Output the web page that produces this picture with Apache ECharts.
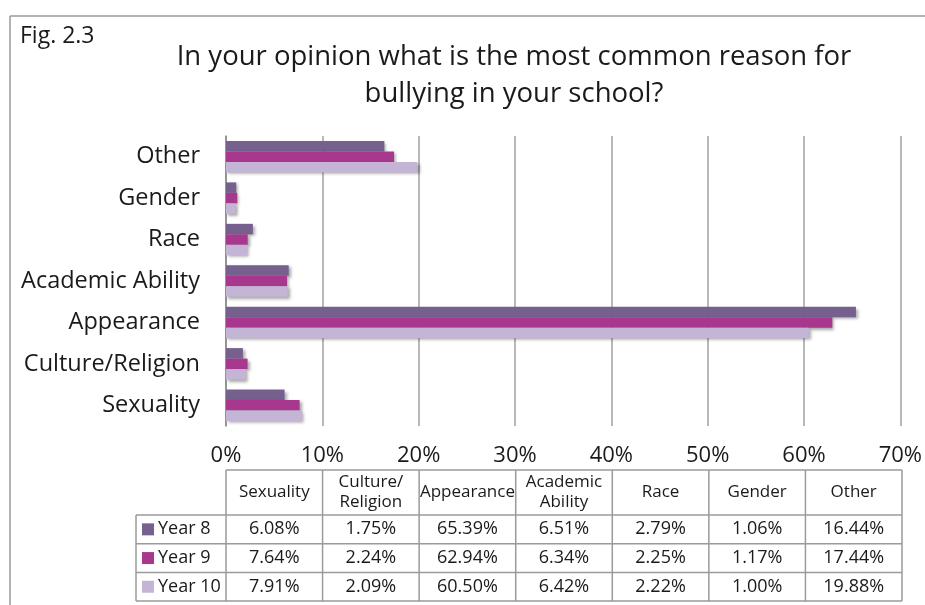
<!DOCTYPE html>
<html>
<head>
<meta charset="utf-8">
<script src="https://cdn.jsdelivr.net/npm/echarts@6/dist/echarts.min.js"></script>
<style>
  html, body { margin: 0; padding: 0; background: #fff; }
  #chart { width: 925px; height: 605px; }
</style>
</head>
<body>
<div id="chart"></div>
<script>
// Reasons for bullying, by school year (percent of respondents)
const categories = ['Sexuality', 'Culture/Religion', 'Appearance', 'Academic Ability', 'Race', 'Gender', 'Other'];
const tableHeaders = ['Sexuality', 'Culture/\nReligion', 'Appearance', 'Academic\nAbility', 'Race', 'Gender', 'Other'];
const seriesNames = ['Year 8', 'Year 9', 'Year 10'];
const year8 = [6.08, 1.75, 65.39, 6.51, 2.79, 1.06, 16.44];
const year9 = [7.64, 2.24, 62.94, 6.34, 2.25, 1.17, 17.44];
const year10 = [7.91, 2.09, 60.50, 6.42, 2.22, 1.00, 19.88];
const xTicks = [0, 10, 20, 30, 40, 50, 60, 70];

const colors = ['#75608e', '#a7388e', '#c4b4d6'];
const FONT = 'Open Sans';
const W = 925, H = 605;
const grid = { left: 226, right: 23, top: 136, bottom: 179 };

const allSeries = [year8, year9, year10];

// Data table under the axis
function buildTable() {
  const els = [];
  const x0 = grid.left;
  const colW = (W - grid.left - grid.right) / categories.length;
  const headTop = 470, headBottom = 515;
  const rowH = 28.7;
  const labelLeft = 136;
  const line = { stroke: '#9a9a9a', lineWidth: 1.5 };
  const tableRight = x0 + colW * categories.length;
  const tableBottom = headBottom + rowH * seriesNames.length;

  // horizontal rules
  els.push({ type: 'line', shape: { x1: x0, y1: headTop, x2: tableRight, y2: headTop }, style: line });
  for (let r = 0; r <= seriesNames.length; r++) {
    const y = headBottom + r * rowH;
    els.push({ type: 'line', shape: { x1: labelLeft, y1: y, x2: tableRight, y2: y }, style: line });
  }
  // vertical rules
  els.push({ type: 'line', shape: { x1: labelLeft, y1: headBottom, x2: labelLeft, y2: tableBottom }, style: line });
  for (let c = 0; c <= categories.length; c++) {
    const x = x0 + c * colW;
    els.push({ type: 'line', shape: { x1: x, y1: headTop, x2: x, y2: tableBottom }, style: line });
  }
  // header labels
  tableHeaders.forEach((h, c) => {
    els.push({
      type: 'text',
      x: x0 + (c + 0.5) * colW, y: (headTop + headBottom) / 2,
      style: { text: h, fontFamily: FONT, fontSize: 17, fill: '#1a1a1a', align: 'center', verticalAlign: 'middle', lineHeight: 20 }
    });
  });
  // rows: legend key, name, values
  seriesNames.forEach((name, r) => {
    const yc = headBottom + (r + 0.5) * rowH;
    els.push({ type: 'rect', shape: { x: 142, y: yc - 6, width: 12, height: 12 }, style: { fill: colors[r] } });
    els.push({
      type: 'text', x: 158, y: yc,
      style: { text: name, fontFamily: FONT, fontSize: 18, fill: '#1a1a1a', align: 'left', verticalAlign: 'middle' }
    });
    allSeries[r].forEach((v, c) => {
      els.push({
        type: 'text', x: x0 + (c + 0.5) * colW, y: yc,
        style: { text: v.toFixed(2) + '%', fontFamily: FONT, fontSize: 18, fill: '#1a1a1a', align: 'center', verticalAlign: 'middle' }
      });
    });
  });
  return els;
}

const chart = echarts.init(document.getElementById('chart'), null, { renderer: 'canvas' });

const frame = [
  { type: 'line', shape: { x1: 10, y1: 16, x2: W, y2: 16 }, style: { stroke: '#9a9a9a', lineWidth: 1.5 } },
  { type: 'line', shape: { x1: 10, y1: 16, x2: 10, y2: H }, style: { stroke: '#9a9a9a', lineWidth: 1.5 } },
  { type: 'text', x: 20, y: 25, style: { text: 'Fig. 2.3', fontFamily: FONT, fontSize: 23, fill: '#1a1a1a' } }
];

chart.setOption({
  animation: false,
  backgroundColor: '#fff',
  title: {
    text: 'In your opinion what is the most common reason for\nbullying in your school?',
    left: 509, top: 34, textAlign: 'center',
    textStyle: { fontFamily: FONT, fontSize: 27.5, fontWeight: 'normal', color: '#1a1a1a', lineHeight: 37 }
  },
  grid: grid,
  xAxis: {
    type: 'value', min: 0, max: 70, interval: 10,
    axisLine: { show: false }, axisTick: { show: false },
    splitLine: { show: true, lineStyle: { color: '#a0a0a0', width: 1.5 } },
    axisLabel: { formatter: v => xTicks.includes(v) ? v + '%' : '', fontFamily: FONT, fontSize: 22, color: '#1a1a1a', margin: 19 }
  },
  yAxis: {
    type: 'category', data: categories,
    axisLine: { show: true, lineStyle: { color: '#8a8a8a', width: 1.5 } },
    axisTick: { show: false },
    axisLabel: { fontFamily: FONT, fontSize: 23.5, color: '#1a1a1a', margin: 26, padding: [6, 0, 0, 0] }
  },
  series: seriesNames.map((name, i) => ({
    name: name,
    type: 'bar',
    data: allSeries[i],
    barWidth: 10.5,
    barGap: '0%',
    itemStyle: {
      color: colors[i],
      shadowColor: 'rgba(0,0,0,0.35)', shadowBlur: 3, shadowOffsetX: 2, shadowOffsetY: 2
    }
  })),
  graphic: frame.concat(buildTable())
});
</script>
</body>
</html>
